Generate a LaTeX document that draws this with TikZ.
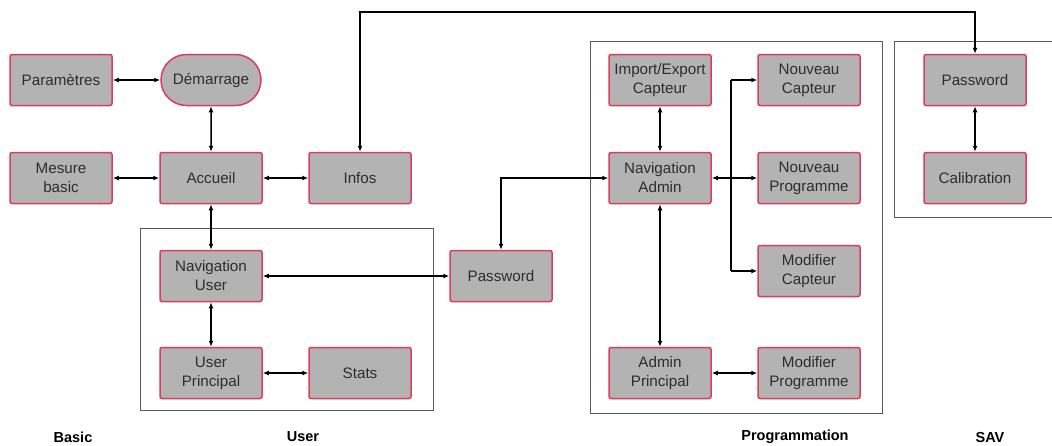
\documentclass[tikz,border=0pt]{standalone}
\usepackage{fontspec}
\setmainfont{Liberation Sans}
\usetikzlibrary{arrows.meta,shapes.misc}
\definecolor{boxfill}{RGB}{179,179,179}
\definecolor{boxline}{RGB}{222,60,92}
\definecolor{txt}{RGB}{45,45,45}
\definecolor{frame}{RGB}{90,90,90}
\tikzset{
  box/.style={draw=boxline, fill=boxfill, line width=1.5pt, rounded corners=2pt,
    minimum width=102pt, minimum height=51pt, inner sep=1pt, align=center,
    text=txt, font=\fontsize{15.2}{19}\selectfont},
  stadium/.style={box, rounded rectangle, rounded corners=0pt},
  container/.style={draw=frame, line width=1pt, fill=white},
  conn/.style={line width=1.5pt, {Latex[length=6pt,width=5pt]}-{Latex[length=6pt,width=5pt]}},
  oneway/.style={line width=1.5pt, -{Latex[length=6pt,width=5pt]}},
  plain/.style={line width=1.5pt},
  grouplabel/.style={font=\bfseries\fontsize{14.5}{16}\selectfont, text=black},
}
\begin{document}
\begin{tikzpicture}[x=1pt,y=-1pt]
\useasboundingbox (0,0) rectangle (1052,445);
% containers
\draw[container] (140,228) rectangle (433,410);
\draw[container] (590,41) rectangle (882,413);
\draw[container] (894,41) rectangle (1060,217);
% nodes
\node[box] (param) at (61,80) {Paramètres};
\node[stadium, minimum width=102pt] (dem) at (211,80) {Démarrage};
\node[box] (mesure) at (61,178) {Mesure\\basic};
\node[box] (accueil) at (211,178) {Accueil};
\node[box] (infos) at (360,178) {Infos};
\node[box] (navuser) at (211,276) {Navigation\\User};
\node[box] (userp) at (211,373) {User\\Principal};
\node[box] (stats) at (360,373) {Stats};
\node[box] (pwd) at (501,276) {Password};
\node[box] (impexp) at (660,80) {Import/Export\\Capteur};
\node[box] (nouvcap) at (809,80) {Nouveau\\Capteur};
\node[box] (navadmin) at (660,178) {Navigation\\Admin};
\node[box] (nouvprog) at (809,178) {Nouveau\\Programme};
\node[box] (modcap) at (809,271) {Modifier\\Capteur};
\node[box] (adminp) at (660,373) {Admin\\Principal};
\node[box] (modprog) at (809,373) {Modifier\\Programme};
\node[box] (savpwd) at (975,80) {Password};
\node[box] (calib) at (975,178) {Calibration};
% group labels
\node[grouplabel] (lbasic) at (73,437) {Basic};
\node[grouplabel] (luser) at (303,437) {User};
\node[grouplabel] (lprog) at (795,437) {Programmation};
\node[grouplabel] (lsav) at (990,437) {SAV};
% connectors
\draw[conn] (param) -- (dem);
\draw[conn] (dem) -- (accueil);
\draw[conn] (mesure) -- (accueil);
\draw[conn] (accueil) -- (infos);
\draw[conn] (accueil) -- (navuser);
\draw[conn] (navuser) -- (pwd);
\draw[conn] (navuser) -- (userp);
\draw[conn] (userp) -- (stats);
\draw[conn] (pwd.north) |- (navadmin.west);
\coordinate (topy) at (0,12);
\draw[conn] (infos.north) -- (infos.north |- topy) -| (savpwd.north);
\draw[conn] (impexp) -- (navadmin);
\draw[conn] (navadmin) -- (adminp);
\draw[conn] (navadmin) -- (nouvprog);
\coordinate (branch) at (731,178);
\draw[oneway] (branch |- nouvcap.west) -- (nouvcap.west);
\draw[plain] (branch |- nouvcap.west) -- (branch |- modcap.west);
\draw[oneway] (branch |- modcap.west) -- (modcap.west);
\draw[conn] (adminp) -- (modprog);
\draw[conn] (savpwd) -- (calib);
\end{tikzpicture}
\end{document}
